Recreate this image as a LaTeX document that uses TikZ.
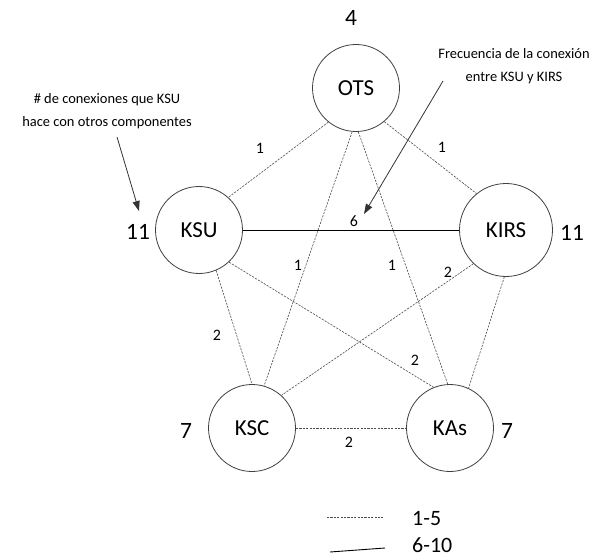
\documentclass[tikz,border=0pt]{standalone}
\usepackage{fontspec}
\setmainfont{Carlito}
\usetikzlibrary{arrows.meta}
\begin{document}
\begin{tikzpicture}[x=1bp,y=-1bp,
  comp/.style={circle,draw=black!75,line width=0.8bp,minimum size=87bp,inner sep=0pt,
               font=\fontsize{23}{27}\selectfont},
  count/.style={font=\fontsize{23.5}{28}\selectfont,inner sep=0pt},
  freq/.style={font=\fontsize{16}{19}\selectfont,inner sep=0pt},
  weak/.style={draw=black!70,line width=0.6bp,dash pattern=on 2.2bp off 1.2bp},
  strong/.style={draw=black,line width=0.9bp},
  note/.style={font=\fontsize{14.5}{23}\selectfont,align=center,inner sep=0pt},
  pointer/.style={draw=black!80,line width=0.8bp,-{Triangle[length=10bp,width=7bp]}},
  legend/.style={font=\fontsize{22}{26}\selectfont,anchor=west,inner sep=0pt}
]
\useasboundingbox (0,0) rectangle (592,560);

% components
\node[comp] (OTS)  at (356,88)  {OTS};
\node[comp] (KSU)  at (199,230) {KSU};
\node[comp,minimum size=93bp] (KIRS) at (506,230) {KIRS};
\node[comp] (KSC)  at (252,428) {KSC};
\node[comp] (KAs)  at (450,428) {KAs};

% number of connections of each component
\node[count] (nOTS)  at (351,18)  {4};
\node[count] (nKSU)  at (138,232) {11};
\node[count] (nKIRS) at (572,233) {11};
\node[count] (nKSC)  at (186,431) {7};
\node[count] (nKAs)  at (507,431) {7};

% connections
\draw[weak]   (OTS.231) -- (KSU.48);
\draw[weak]   (OTS.310) -- (KIRS.129);
\draw[weak]   (OTS.265) -- (KSC.74);
\draw[weak]   (OTS.273) -- (KAs.93);
\draw[strong] (KSU.0)   -- (KIRS.180);
\draw[weak]   (KSU.293) -- (KSC.90);
\draw[weak]   (KSU.313) -- (KAs.112);
\draw[weak]   (KIRS.226) -- (KSC.48);
\draw[weak]   (KIRS.268) -- (KAs.65);
\draw[weak]   (KSC.0)   -- (KAs.180);

% connection frequencies
\node[freq] (fOTSKSU)  at (260,148) {1};
\node[freq] (fOTSKIRS) at (442,147) {1};
\node[freq] (fKSUKIRS) at (354,221) {6};
\node[freq] (fOTSKSC)  at (298,265) {1};
\node[freq] (fOTSKAs)  at (392,265) {1};
\node[freq] (fKIRSKSC) at (448,272) {2};
\node[freq] (fKSUKSC)  at (217,335) {2};
\node[freq] (fKSUKAs)  at (415,360) {2};
\node[freq] (fKSCKAs)  at (349,442) {2};

% annotations
\node[note] (noteCount) at (107,111) {\# de conexiones que KSU\\hace con otros componentes};
\node[note] (noteFreq)  at (514,66)  {Frecuencia de la conexión\\entre KSU y KIRS};
\coordinate (countTail) at (117,137);
\coordinate (countTip)  at (139,211);
\coordinate (freqTail)  at (443,81);
\coordinate (freqTip)   at (364,214);
\draw[pointer] (countTail) -- (countTip);
\draw[pointer] (freqTail) -- (freqTip);

% legend
\coordinate (lgWeakA)   at (327,517);
\coordinate (lgWeakB)   at (383,517);
\coordinate (lgStrongA) at (330,552);
\coordinate (lgStrongB) at (385,548);
\draw[weak]   (lgWeakA) -- (lgWeakB);
\draw[strong] (lgStrongA) -- (lgStrongB);
\node[legend] (lgWeak)   at (412,519) {1-5};
\node[legend] (lgStrong) at (412,545) {6-10};
\end{tikzpicture}
\end{document}
